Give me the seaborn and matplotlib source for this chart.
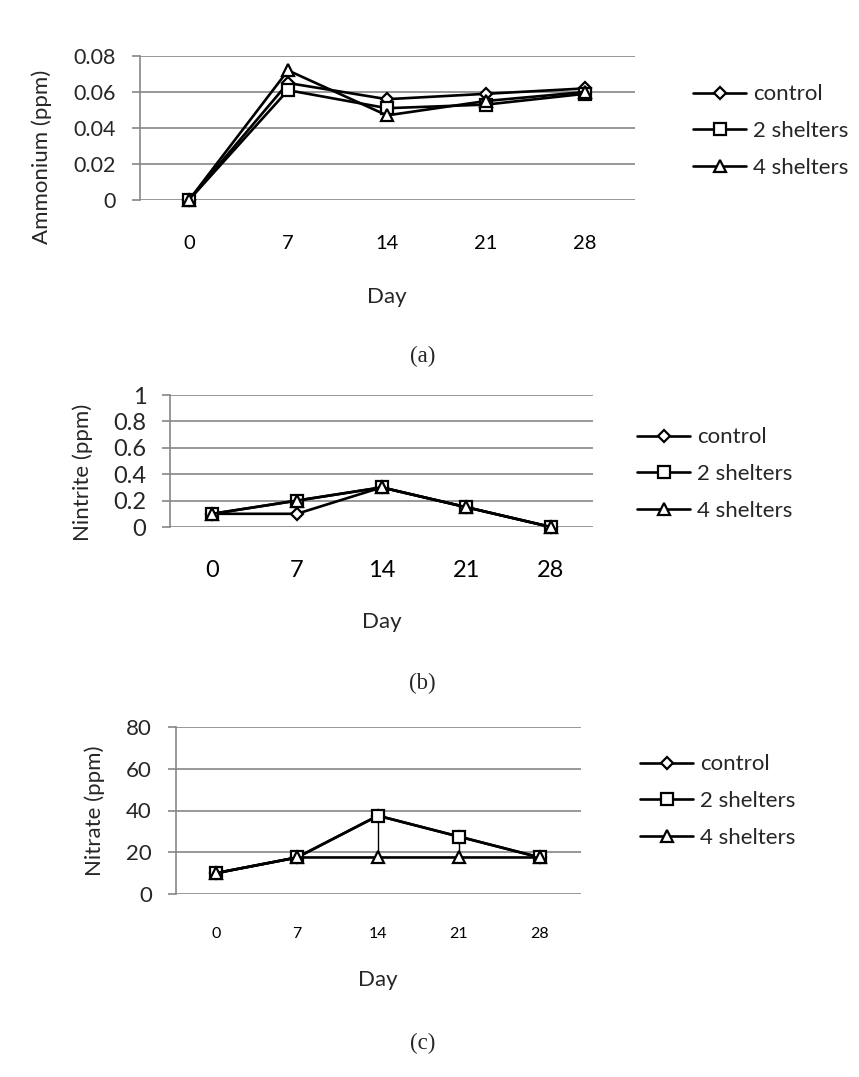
import matplotlib
matplotlib.use("Agg")
import matplotlib.pyplot as plt
import numpy as np
import pandas as pd
import seaborn as sns

# x categories (days of sampling)
days = [0, 7, 14, 21, 28]
day_labels = ["0", "7", "14", "21", "28"]
series_names = ["control", "2 shelters", "4 shelters"]

# (a) ammonium, ppm
ammonium_control = [0.0, 0.065, 0.056, 0.059, 0.062]
ammonium_2 = [0.0, 0.061, 0.051, 0.053, 0.059]
ammonium_4 = [0.0, 0.072, 0.047, 0.055, 0.060]
ammonium_ticks = [0, 0.02, 0.04, 0.06, 0.08]
ammonium_tick_labels = ["0", "0.02", "0.04", "0.06", "0.08"]

# (b) nitrite, ppm
nitrite_control = [0.1, 0.1, 0.3, 0.15, 0.0]
nitrite_2 = [0.1, 0.2, 0.3, 0.15, 0.0]
nitrite_4 = [0.1, 0.2, 0.3, 0.15, 0.0]
nitrite_ticks = [0, 0.2, 0.4, 0.6, 0.8, 1.0]
nitrite_tick_labels = ["0", "0.2", "0.4", "0.6", "0.8", "1"]

# (c) nitrate, ppm
nitrate_control = [10, 17.5, 37.5, 27.5, 17.5]
nitrate_2 = [10, 17.5, 37.5, 27.5, 17.5]
nitrate_4 = [10, 17.5, 17.5, 17.5, 17.5]
nitrate_ticks = [0, 20, 40, 60, 80]
nitrate_tick_labels = ["0", "20", "40", "60", "80"]

sns.set_style("white")
plt.rcParams["font.family"] = ["Lato", "DejaVu Sans"]

W, H = 859, 1077
GRID = "#868686"
LABEL_SIZE = 16
MARKERS = {"control": ("D", 6.4), "2 shelters": ("s", 8.6), "4 shelters": ("^", 9.0)}

fig = plt.figure(figsize=(W / 100, H / 100), dpi=100)


def px(x, y):
    """pixel position (from top-left) -> figure fraction"""
    return x / W, 1 - y / H


def days_px(rect):
    left, _, right, _ = rect
    step = (right - left) / len(days)
    return [left + step * (i + 0.5) for i in range(len(days))]


def draw_panel(rect, values, ylabel, ticks, tick_labels, ylab_xy, day_y,
               legend_xy, cap_xy, caption, xtick_size, ytick_size, xpad):
    left, top, right, bottom = rect
    ax = fig.add_axes([left / W, 1 - bottom / H, (right - left) / W,
                       (bottom - top) / H])

    df = pd.DataFrame({
        "day": np.tile(days, len(series_names)),
        "value": np.concatenate(values),
        "series": np.repeat(series_names, len(days)),
    })

    # excel style high-low lines between the series at each day
    arr = np.array(values, dtype=float)
    ax.vlines(days, arr.min(axis=0), arr.max(axis=0), color="black",
              lw=1.0, zorder=2)

    for name in series_names:
        marker, ms = MARKERS[name]
        sns.lineplot(data=df[df["series"] == name], x="day", y="value",
                     ax=ax, color="black", lw=1.9, marker=marker,
                     markersize=ms, markerfacecolor="white",
                     markeredgecolor="black", markeredgewidth=1.6,
                     errorbar=None, clip_on=False, zorder=3)

    ax.set_xlim(-3.5, 31.5)
    ax.set_ylim(ticks[0], ticks[-1])
    ax.set_xticks(days, day_labels)
    ax.set_yticks(ticks, tick_labels)
    ax.grid(axis="y", color=GRID, lw=1.2)
    ax.grid(axis="x", visible=False)
    for side in ["top", "right", "bottom"]:
        ax.spines[side].set_visible(False)
    ax.spines["left"].set_color(GRID)
    ax.spines["left"].set_linewidth(1.2)
    ax.tick_params(axis="x", length=0, pad=xpad, labelsize=xtick_size,
                   colors="black")
    ax.tick_params(axis="y", length=6, width=1.2, color=GRID, pad=11,
                   labelsize=ytick_size, left=True)

    ax.set_xlabel("Day", fontsize=LABEL_SIZE)
    ax.xaxis.label.set_va("center")
    ax.xaxis.set_label_coords(*px(days_px(rect)[2], day_y),
                              transform=fig.transFigure)
    ax.set_ylabel(ylabel, fontsize=LABEL_SIZE)
    ax.yaxis.label.set_va("center")
    ax.yaxis.set_label_coords(*px(*ylab_xy), transform=fig.transFigure)

    ax.legend(handles=ax.lines[:3], labels=series_names, loc="center left",
              bbox_to_anchor=px(*legend_xy), bbox_transform=fig.transFigure,
              frameon=False, fontsize=LABEL_SIZE, handlelength=2.4,
              handletextpad=0.3, labelspacing=0.75, borderpad=0,
              borderaxespad=0)

    fig.text(*px(*cap_xy), caption, ha="center", va="center",
             family="Liberation Serif", fontsize=16.5)
    return ax


draw_panel((139.5, 56, 634.5, 200),
           [ammonium_control, ammonium_2, ammonium_4],
           "Ammonium (ppm)", ammonium_ticks, ammonium_tick_labels,
           (42, 157), 297, (693, 131), (423, 356), "(a)", 14.5, 15.5, 25)

draw_panel((170, 395, 593.3, 527),
           [nitrite_control, nitrite_2, nitrite_4],
           "Nintrite (ppm)", nitrite_ticks, nitrite_tick_labels,
           (83, 472), 622, (637, 474), (422, 683), "(b)", 17, 17, 24)

draw_panel((175.5, 727, 580.5, 894),
           [nitrate_control, nitrate_2, nitrate_4],
           "Nitrate (ppm)", nitrate_ticks, nitrate_tick_labels,
           (95, 811), 980, (640, 801), (423, 1043), "(c)", 11.5, 16, 24)

fig.savefig("out.png", dpi=100)
plt.close(fig)
